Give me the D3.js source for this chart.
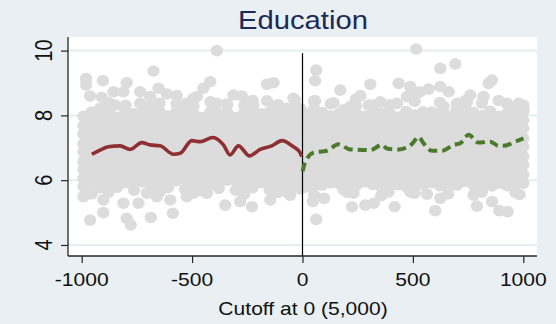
<!DOCTYPE html>
<html>
<head>
<meta charset="utf-8">
<script src="https://cdn.jsdelivr.net/npm/d3@7"></script>
<style>
  html, body { margin: 0; padding: 0; background: #e9eff2; }
  svg { display: block; }
</style>
</head>
<body>
<svg id="chart" width="556" height="324"></svg>
<script>
// ---- data ----------------------------------------------------------------
const chartTitle = "Education";
const xAxisTitle = "Cutoff at 0 (5,000)";
const xTicks = [-1000, -500, 0, 500, 1000];
const yTicks = [4, 6, 8, 10];
const xDomain = [-1062, 1062];
const yDomain = [3.66, 10.42];
const cutoff = 0;
const cutoffTop = 9.92;

// dense core of the scatter: [running variable, list of outcome values]
const coreColumns = [
  [-992, [5.80, 6.05, 6.33, 6.58, 6.87, 7.12, 7.43, 7.68, 7.97]],
  [-955, [5.58, 5.93, 6.19, 6.46, 6.73, 6.99, 7.28, 7.57, 7.83, 8.10]],
  [-918, [5.76, 6.04, 6.30, 6.61, 6.85, 7.15, 7.39, 7.71, 7.99, 8.21]],
  [-878, [5.63, 5.90, 6.17, 6.45, 6.70, 7.01, 7.26, 7.55, 7.86, 8.13, 8.40]],
  [-840, [5.78, 6.06, 6.31, 6.59, 6.88, 7.10, 7.42, 7.66, 7.94]],
  [-801, [5.92, 6.12, 6.44, 6.69, 6.97, 7.28, 7.53, 7.83, 8.07, 8.31]],
  [-763, [5.69, 5.99, 6.25, 6.57, 6.82, 7.13, 7.37, 7.69, 7.95, 8.05]],
  [-724, [5.95, 6.11, 6.42, 6.67, 6.99, 7.24, 7.54, 7.79, 8.05, 8.28]],
  [-686, [5.73, 6.02, 6.27, 6.58, 6.84, 7.15, 7.41, 7.72, 7.97, 8.26]],
  [-647, [5.64, 5.88, 6.16, 6.45, 6.70, 7.00, 7.26, 7.56, 7.82, 8.11, 8.38]],
  [-609, [5.77, 6.01, 6.32, 6.57, 6.87, 7.12, 7.43, 7.68, 7.98]],
  [-571, [5.98, 6.14, 6.44, 6.70, 7.01, 7.26, 7.57, 7.81, 8.13, 8.36]],
  [-532, [5.72, 6.03, 6.28, 6.59, 6.83, 7.14, 7.39, 7.69, 7.95, 8.12]],
  [-494, [5.60, 5.84, 6.13, 6.39, 6.69, 6.95, 7.25, 7.51, 7.82, 8.07, 8.29]],
  [-456, [5.67, 5.98, 6.25, 6.55, 6.81, 7.11, 7.37, 7.67, 7.93]],
  [-417, [5.86, 6.12, 6.42, 6.68, 6.98, 7.24, 7.54, 7.80, 8.10, 8.42]],
  [-379, [5.75, 6.01, 6.31, 6.57, 6.87, 7.13, 7.43, 7.69, 7.99, 8.05]],
  [-341, [6.00, 6.17, 6.43, 6.73, 6.99, 7.29, 7.55, 7.85, 8.09, 8.33]],
  [-302, [5.69, 5.99, 6.25, 6.55, 6.81, 7.11, 7.37, 7.67, 7.93]],
  [-264, [5.57, 5.87, 6.13, 6.43, 6.69, 6.99, 7.25, 7.55, 7.81, 8.07, 8.30]],
  [-226, [5.77, 6.03, 6.33, 6.59, 6.89, 7.15, 7.45, 7.71, 8.01, 8.46]],
  [-187, [5.93, 6.11, 6.37, 6.67, 6.93, 7.23, 7.49, 7.79, 8.05]],
  [-149, [5.71, 6.01, 6.27, 6.57, 6.83, 7.13, 7.39, 7.69, 7.95, 8.10]],
  [-111, [5.62, 5.86, 6.11, 6.41, 6.67, 6.97, 7.23, 7.53, 7.79, 8.09, 8.33]],
  [-72,  [5.65, 5.97, 6.23, 6.53, 6.79, 7.09, 7.35, 7.65, 7.91, 8.05]],
  [-34,  [5.81, 6.07, 6.37, 6.63, 6.93, 7.19, 7.49, 7.75, 8.05, 8.27, 8.48]],
  [-9,   [5.73, 5.99, 6.29, 6.55, 6.85, 7.11, 7.41, 7.67, 7.97, 8.21]],
  [14,   [5.79, 6.09, 6.35, 6.65, 6.91, 7.21, 7.47, 7.77, 8.05]],
  [52,   [5.55, 5.82, 6.07, 6.27, 6.53, 6.83, 7.09, 7.39, 7.65, 7.95, 8.21, 8.45]],
  [90,   [5.85, 6.11, 6.41, 6.67, 6.97, 7.23, 7.53, 7.79, 8.09]],
  [128,  [5.92, 6.05, 6.31, 6.61, 6.87, 7.17, 7.43, 7.73, 7.99, 8.36]],
  [166,  [5.89, 6.15, 6.45, 6.71, 7.01, 7.27, 7.57, 7.83, 8.06]],
  [204,  [5.62, 5.90, 6.15, 6.27, 6.57, 6.83, 7.13, 7.39, 7.69, 7.95, 8.12]],
  [242,  [5.83, 6.09, 6.39, 6.65, 6.95, 7.21, 7.51, 7.77, 8.07, 8.29, 8.50]],
  [280,  [5.95, 6.03, 6.29, 6.59, 6.85, 7.15, 7.41, 7.71, 7.97]],
  [318,  [5.87, 6.13, 6.43, 6.69, 6.99, 7.25, 7.55, 7.81, 8.11, 8.32]],
  [356,  [5.52, 5.80, 6.05, 6.25, 6.55, 6.81, 7.11, 7.37, 7.67, 7.93, 8.07]],
  [394,  [5.85, 6.11, 6.41, 6.67, 6.97, 7.23, 7.53, 7.79, 8.09, 8.33]],
  [432,  [5.86, 6.01, 6.27, 6.57, 6.83, 7.13, 7.39, 7.69, 7.95]],
  [470,  [5.79, 6.09, 6.35, 6.65, 6.91, 7.21, 7.47, 7.77, 8.03, 8.12]],
  [508,  [5.60, 5.84, 6.03, 6.33, 6.59, 6.89, 7.15, 7.45, 7.71, 8.01, 8.44]],
  [546,  [5.87, 6.13, 6.43, 6.69, 6.99, 7.25, 7.55, 7.81, 8.11]],
  [584,  [5.93, 5.99, 6.25, 6.55, 6.81, 7.11, 7.37, 7.67, 7.93, 8.10]],
  [622,  [5.83, 6.09, 6.39, 6.65, 6.95, 7.21, 7.51, 7.77, 8.07, 8.40]],
  [660,  [5.58, 5.83, 6.03, 6.29, 6.59, 6.85, 7.15, 7.41, 7.71, 7.97]],
  [698,  [5.89, 6.15, 6.45, 6.71, 7.01, 7.27, 7.57, 7.83, 8.13, 8.18]],
  [736,  [5.96, 6.01, 6.27, 6.57, 6.83, 7.13, 7.39, 7.69, 7.95, 8.23, 8.45]],
  [774,  [5.85, 6.11, 6.41, 6.67, 6.97, 7.23, 7.53, 7.79, 8.09]],
  [812,  [5.63, 5.88, 6.05, 6.31, 6.61, 6.87, 7.17, 7.43, 7.73, 7.99, 8.38]],
  [850,  [5.89, 6.15, 6.45, 6.71, 7.01, 7.27, 7.57, 7.83, 8.13]],
  [888,  [5.90, 6.03, 6.29, 6.59, 6.85, 7.15, 7.41, 7.71, 7.97, 8.46]],
  [926,  [5.83, 6.09, 6.39, 6.65, 6.95, 7.21, 7.51, 7.77, 8.07]],
  [964,  [5.62, 5.86, 6.03, 6.33, 6.59, 6.89, 7.15, 7.45, 7.71, 8.01, 8.15]],
  [1000, [5.91, 6.17, 6.47, 6.73, 7.03, 7.29, 7.59, 7.85, 8.13, 8.31]]
];

// scattered observations above and below the core
const fringePoints = [
  [-388, 10.00], [-675, 9.37], [-980, 9.14], [-904, 9.07], [-980, 8.94], [-796, 9.01],
  [-856, 8.73], [-811, 8.73], [-735, 8.73], [-652, 8.84], [-569, 8.61], [-418, 9.04],
  [-449, 8.84], [-478, 8.58], [-161, 8.96], [-131, 9.01], [-41, 8.53], [-313, 8.63],
  [-275, 8.60], [-222, 8.32], [-161, 8.45], [-962, 8.60], [-909, 8.56], [-735, 8.37],
  [-690, 8.58], [-614, 8.66], [-524, 8.37], [-494, 8.53], [-388, 8.37], [-343, 8.35],
  [-131, 8.22], [-71, 8.22], [-849, 8.32], [-803, 8.17],
  [515, 10.05], [692, 9.59], [624, 9.45], [62, 9.40], [57, 9.07], [171, 8.78],
  [307, 8.96], [262, 8.61], [435, 8.99], [488, 8.89], [533, 8.73], [571, 8.81],
  [624, 8.89], [662, 8.73], [843, 8.99], [858, 9.09], [760, 8.63], [820, 8.58],
  [57, 8.45], [141, 8.39], [352, 8.42], [299, 8.32], [428, 8.37], [473, 8.58],
  [511, 8.63], [745, 8.42], [926, 8.37], [979, 8.37], [1001, 8.17], [216, 8.27],
  [186, 8.17], [639, 8.27], [700, 8.37],
  [-962, 4.77], [-902, 5.00], [-796, 4.82], [-778, 4.62], [-687, 4.85], [-587, 4.98],
  [-992, 5.49], [-902, 5.39], [-811, 5.29], [-743, 5.29], [-660, 5.49], [-599, 5.39],
  [-524, 5.49], [-433, 5.60], [-350, 5.23], [-282, 5.34], [-229, 5.18], [-146, 5.39],
  [-56, 5.54], [-705, 5.60], [-464, 5.70],
  [62, 4.79], [224, 5.18], [284, 5.23], [323, 5.29], [417, 5.18], [601, 5.06],
  [790, 5.20], [858, 5.34], [891, 5.06], [929, 5.03], [983, 5.56], [47, 5.34],
  [98, 5.44], [564, 5.57], [624, 5.44], [858, 5.82], [390, 5.64], [488, 5.64],
  [700, 5.85], [775, 5.54], [231, 5.60], [186, 5.70]
];

// local fits on each side of the cutoff
const leftFitX = [-954, -917, -879, -826, -781, -728, -690, -645, -584, -554, -501, -464,
                  -406, -358, -328, -290, -240, -192, -139, -93, -41, -14, -3];
const leftFitY = [6.80, 6.93, 7.03, 7.06, 6.95, 7.16, 7.09, 7.06, 6.80, 6.83, 7.22, 7.19,
                  7.32, 7.09, 6.78, 7.06, 6.75, 6.95, 7.06, 7.22, 7.03, 6.88, 6.73];
const rightFitX = [0, 12, 50, 110, 163, 216, 307, 360, 382, 435, 496, 526, 548, 586, 632,
                   684, 715, 752, 797, 851, 888, 911, 964, 1001];
const rightFitY = [6.27, 6.55, 6.85, 6.91, 7.11, 6.95, 6.93, 7.09, 6.98, 6.95, 7.12, 7.34,
                   7.14, 6.91, 6.91, 7.09, 7.14, 7.40, 7.16, 7.19, 7.06, 7.06, 7.19, 7.29];

// ---- layout & style --------------------------------------------------------
const W = 556, H = 324;
const plot = { left: 68, right: 537, top: 37, bottom: 256 };
const FONT = "'Liberation Sans', Arial, Helvetica, sans-serif";
const SX = 1.17;           // horizontal text stretch of the graph
const bgColor = "#e9eff2";
const gridColor = "#e4edf0";
const markerColor = "#dcdcdc";
const axisColor = "#262626";
const leftColor = "#8e2f33";
const rightColor = "#4c7a2c";

const svg = d3.select("#chart");

const x = d3.scaleLinear().domain(xDomain).range([plot.left, plot.right]);
const y = d3.scaleLinear().domain(yDomain).range([plot.bottom, plot.top]);

svg.append("rect").attr("width", W).attr("height", H).attr("fill", bgColor);
svg.append("rect")
  .attr("x", plot.left).attr("y", plot.top)
  .attr("width", plot.right - plot.left).attr("height", plot.bottom - plot.top)
  .attr("fill", "#ffffff");

// horizontal grid lines
svg.append("g").selectAll("line").data(yTicks).join("line")
  .attr("x1", plot.left).attr("x2", plot.right)
  .attr("y1", d => y(d)).attr("y2", d => y(d))
  .attr("stroke", gridColor).attr("stroke-width", 2);

// scatter
const points = [];
coreColumns.forEach(([cx, ys]) => ys.forEach(v => points.push([cx, v])));
fringePoints.forEach(p => points.push(p));

svg.append("g").selectAll("ellipse").data(points).join("ellipse")
  .attr("cx", d => x(d[0])).attr("cy", d => y(d[1]))
  .attr("rx", 6.2).attr("ry", 5.8)
  .attr("fill", markerColor);

// cutoff line
svg.append("line")
  .attr("x1", x(cutoff)).attr("x2", x(cutoff))
  .attr("y1", y(cutoffTop)).attr("y2", plot.bottom)
  .attr("stroke", "#000").attr("stroke-width", 1.2);

// fitted lines
const line = d3.line().x(d => x(d[0])).y(d => y(d[1])).curve(d3.curveMonotoneX);
svg.append("path")
  .datum(leftFitX.map((v, i) => [v, leftFitY[i]]))
  .attr("d", line).attr("fill", "none")
  .attr("stroke", leftColor).attr("stroke-width", 3.6)
  .attr("stroke-linejoin", "round");
svg.append("path")
  .datum(rightFitX.map((v, i) => [v, rightFitY[i]]))
  .attr("d", line).attr("fill", "none")
  .attr("stroke", rightColor).attr("stroke-width", 4)
  .attr("stroke-dasharray", "9,5");

// axes
const xAxis = d3.axisBottom(x).tickValues(xTicks).tickSize(7).tickFormat("");
const yAxis = d3.axisLeft(y).tickValues(yTicks).tickSize(7).tickFormat("");
const gx = svg.append("g").attr("transform", `translate(0,${plot.bottom})`).call(xAxis);
const gy = svg.append("g").attr("transform", `translate(${plot.left},0)`).call(yAxis);
[gx, gy].forEach(g => {
  g.select(".domain").remove();
  g.selectAll(".tick line").attr("stroke", axisColor).attr("stroke-width", 1.2);
});
svg.append("line")
  .attr("x1", plot.left).attr("x2", plot.right)
  .attr("y1", plot.bottom).attr("y2", plot.bottom)
  .attr("stroke", axisColor).attr("stroke-width", 1.3);
svg.append("line")
  .attr("x1", plot.left).attr("x2", plot.left)
  .attr("y1", plot.top).attr("y2", plot.bottom)
  .attr("stroke", axisColor).attr("stroke-width", 1.3);

// text helper (labels are drawn slightly widened)
function label(px, py, str, size, color, rotate) {
  svg.append("text")
    .attr("transform", `translate(${px},${py}) scale(${SX},1)` + (rotate ? " rotate(-90)" : ""))
    .attr("text-anchor", "middle")
    .attr("font-family", FONT)
    .attr("font-size", size)
    .attr("fill", color)
    .text(str);
}

xTicks.forEach(t => label(x(t), 286, String(t), 18, "#111"));
yTicks.forEach(t => label(52, y(t), String(t), 20, "#111", true));
label(303, 315, xAxisTitle, 18, "#111");
label(303, 29, chartTitle, 25, "#1c2a55");
</script>
</body>
</html>
